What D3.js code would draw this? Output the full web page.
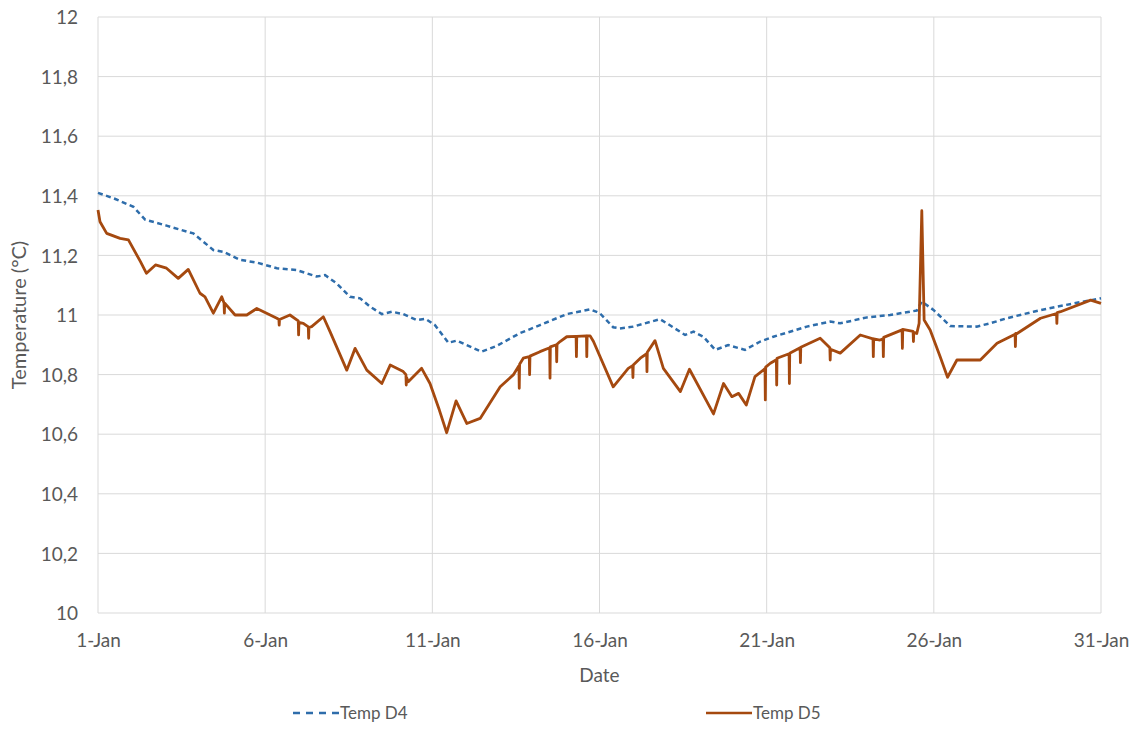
<!DOCTYPE html>
<html>
<head>
<meta charset="utf-8">
<script src="https://cdn.jsdelivr.net/npm/d3@7"></script>
<style>
  body { margin: 0; background: #fff; }
  svg text { font-family: Lato, "Open Sans", sans-serif; fill: #595959; }
</style>
</head>
<body>
<script>
// x = day of January (fractional), y = temperature
const xTicks = [1, 6, 11, 16, 21, 26, 31];
const yTicks = [10, 10.2, 10.4, 10.6, 10.8, 11, 11.2, 11.4, 11.6, 11.8, 12];

const tempD4 = [
  [1.0, 11.41], [1.5, 11.39], [2.06, 11.363], [2.41, 11.32], [3.05, 11.30], [3.65, 11.28],
  [3.85, 11.274], [4.45, 11.218], [4.75, 11.212], [5.25, 11.185], [5.75, 11.176], [6.35, 11.157],
  [6.94, 11.151], [7.54, 11.129], [7.79, 11.134], [8.14, 11.106], [8.54, 11.061], [8.84, 11.056],
  [9.14, 11.028], [9.49, 11.003], [9.79, 11.011], [10.13, 11.003], [10.53, 10.983], [10.8, 10.987],
  [11.08, 10.966], [11.48, 10.907], [11.73, 10.914], [12.03, 10.899], [12.47, 10.877], [12.92, 10.896],
  [13.62, 10.939], [14.22, 10.966], [15.02, 11.003], [15.72, 11.019], [16.01, 11.006], [16.41, 10.959],
  [16.61, 10.955], [17.01, 10.961], [17.81, 10.986], [18.06, 10.969], [18.56, 10.933], [18.81, 10.944],
  [19.11, 10.927], [19.46, 10.883], [19.85, 10.899], [20.35, 10.883], [20.81, 10.911], [21.2, 10.927],
  [22.2, 10.961], [22.9, 10.978], [23.2, 10.972], [24.0, 10.992], [24.69, 11.0], [25.49, 11.015],
  [25.64, 11.045], [25.99, 11.017], [26.49, 10.963], [27.28, 10.961], [27.68, 10.972], [28.18, 10.989],
  [28.98, 11.011], [29.68, 11.028], [30.28, 11.041], [31.0, 11.056]
];

const tempD5 = [
  [1.0, 11.352], [1.06, 11.313], [1.26, 11.274], [1.66, 11.257], [1.91, 11.252], [2.27, 11.179],
  [2.45, 11.14], [2.72, 11.168], [3.05, 11.157], [3.4, 11.123], [3.7, 11.153], [4.05, 11.073],
  [4.2, 11.061], [4.45, 11.006], [4.7, 11.061], [4.77, 11.04], [4.78, 11.006], [4.79, 11.04],
  [5.1, 11.0], [5.45, 11.0], [5.75, 11.022], [6.35, 10.989], [6.41, 10.985], [6.42, 10.966],
  [6.43, 10.985], [6.74, 11.0], [6.99, 10.98], [7.0, 10.933], [7.01, 10.975], [7.14, 10.972],
  [7.29, 10.96], [7.3, 10.922], [7.31, 10.958], [7.39, 10.961], [7.74, 10.994], [7.94, 10.944],
  [8.44, 10.815], [8.69, 10.888], [9.04, 10.815], [9.49, 10.770], [9.74, 10.832], [10.13, 10.81],
  [10.21, 10.80], [10.22, 10.765], [10.23, 10.79], [10.28, 10.776], [10.68, 10.821], [10.93, 10.77],
  [11.21, 10.681], [11.43, 10.605], [11.71, 10.712], [12.03, 10.636], [12.43, 10.653], [13.03, 10.759],
  [13.42, 10.799], [13.59, 10.83], [13.6, 10.754], [13.61, 10.835], [13.72, 10.855], [13.9, 10.86],
  [13.91, 10.80], [13.92, 10.862], [14.22, 10.877], [14.51, 10.89], [14.52, 10.788], [14.53, 10.893],
  [14.71, 10.90], [14.72, 10.843], [14.73, 10.902], [14.82, 10.911], [15.02, 10.927], [15.3, 10.928],
  [15.31, 10.86], [15.32, 10.928], [15.61, 10.93], [15.62, 10.860], [15.63, 10.93], [15.72, 10.93],
  [15.82, 10.911], [16.41, 10.759], [16.86, 10.821], [16.99, 10.83], [17.0, 10.79], [17.01, 10.832],
  [17.22, 10.855], [17.41, 10.87], [17.42, 10.81], [17.43, 10.875], [17.66, 10.914], [17.91, 10.821],
  [18.42, 10.743], [18.69, 10.818], [19.41, 10.668], [19.71, 10.77], [19.96, 10.726], [20.16, 10.737],
  [20.39, 10.698], [20.65, 10.793], [20.95, 10.82], [20.96, 10.715], [20.97, 10.825], [21.11, 10.838],
  [21.29, 10.85], [21.3, 10.765], [21.31, 10.855], [21.67, 10.87], [21.68, 10.77], [21.69, 10.872],
  [22.0, 10.89], [22.01, 10.84], [22.02, 10.892], [22.6, 10.922], [22.89, 10.89], [22.9, 10.849],
  [22.91, 10.885], [23.2, 10.872], [23.8, 10.933], [24.18, 10.92], [24.19, 10.86], [24.2, 10.92],
  [24.39, 10.916], [24.48, 10.92], [24.49, 10.86], [24.5, 10.925], [25.05, 10.95], [25.06, 10.888],
  [25.07, 10.952], [25.38, 10.945], [25.39, 10.911], [25.4, 10.942], [25.49, 10.938], [25.56, 10.972],
  [25.64, 11.35], [25.71, 10.983], [25.89, 10.95], [26.19, 10.86], [26.41, 10.791], [26.69, 10.849],
  [27.39, 10.849], [27.89, 10.905], [28.43, 10.935], [28.44, 10.894], [28.45, 10.938], [28.49, 10.938],
  [29.19, 10.989], [29.67, 11.005], [29.68, 10.972], [29.69, 11.008], [29.79, 11.011], [30.69, 11.05],
  [31.0, 11.039]
];

const width = 1137, height = 729;
const margin = {top: 17, right: 36, bottom: 116, left: 98};

const svg = d3.select("body").append("svg")
    .attr("width", width)
    .attr("height", height);

const x = d3.scaleLinear().domain([1, 31]).range([margin.left, width - margin.right]);
const y = d3.scaleLinear().domain([10, 12]).range([height - margin.bottom, margin.top]);

// gridlines
svg.append("g").selectAll("line.h")
  .data(yTicks).join("line")
    .attr("x1", x(1)).attr("x2", x(31))
    .attr("y1", d => y(d)).attr("y2", d => y(d))
    .attr("stroke", "#d9d9d9").attr("stroke-width", 1);

svg.append("g").selectAll("line.v")
  .data(xTicks).join("line")
    .attr("x1", d => x(d)).attr("x2", d => x(d))
    .attr("y1", y(10)).attr("y2", y(12))
    .attr("stroke", "#d9d9d9").attr("stroke-width", 1);

// axes (labels only, Excel style)
const yAxis = svg.append("g")
    .attr("transform", `translate(${x(1)},0)`)
    .call(d3.axisLeft(y).tickValues(yTicks).tickSize(0).tickPadding(20)
      .tickFormat(d => d3.format("")(+d.toFixed(1)).replace(".", ",")));
yAxis.select(".domain").remove();
yAxis.selectAll("text").style("font-size", "19px").attr("dy", "0.35em");

const xAxis = svg.append("g")
    .attr("transform", `translate(0,${y(10)})`)
    .call(d3.axisBottom(x).tickValues(xTicks).tickSize(0).tickPadding(21)
      .tickFormat(d => d + "-Jan"));
xAxis.select(".domain").remove();
xAxis.selectAll("text").style("font-size", "19px");

svg.append("text")
    .attr("x", (x(1) + x(31)) / 2)
    .attr("y", 682)
    .attr("text-anchor", "middle")
    .style("font-size", "19px")
    .text("Date");

svg.append("text")
    .attr("transform", `translate(26,${(y(10) + y(12)) / 2}) rotate(-90)`)
    .attr("text-anchor", "middle")
    .style("font-size", "20px")
    .text("Temperature (°C)");

const line = d3.line()
    .x(d => x(d[0]))
    .y(d => y(d[1]));

svg.append("path")
    .datum(tempD4)
    .attr("d", line)
    .attr("fill", "none")
    .attr("stroke", "#2e6dab")
    .attr("stroke-width", 2.5)
    .attr("stroke-dasharray", "5,3.5");

svg.append("path")
    .datum(tempD5)
    .attr("d", line)
    .attr("fill", "none")
    .attr("stroke", "#a5490f")
    .attr("stroke-width", 2.8)
    .attr("stroke-linejoin", "round");

// legend
const legend = [
  {name: "Temp D4", color: "#2e6dab", dash: "7,6", x0: 293},
  {name: "Temp D5", color: "#a5490f", dash: null, x0: 706}
];
const lg = svg.append("g").selectAll("g").data(legend).join("g")
    .attr("transform", d => `translate(${d.x0},713)`);
lg.append("line")
    .attr("x1", 0).attr("x2", 46)
    .attr("stroke", d => d.color)
    .attr("stroke-width", 2.5)
    .attr("stroke-dasharray", d => d.dash);
lg.append("text")
    .attr("x", 47)
    .attr("dy", "0.35em")
    .style("font-size", "17px")
    .text(d => d.name);
</script>
</body>
</html>
